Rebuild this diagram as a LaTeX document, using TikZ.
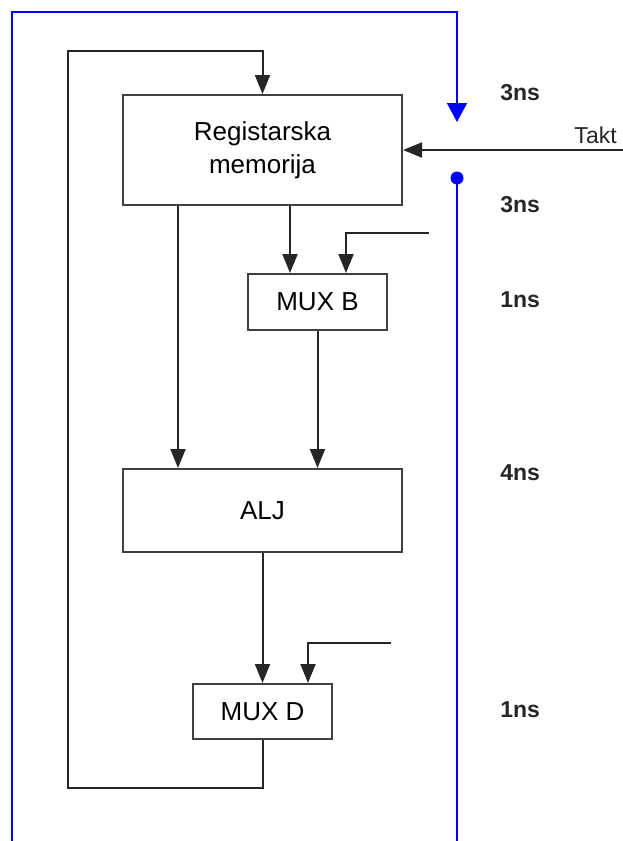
\documentclass[tikz,border=0pt]{standalone}
\usepackage{fontspec}
\setmainfont{Liberation Sans}
\usetikzlibrary{arrows.meta}
\begin{document}
\begin{tikzpicture}
[x=1pt, y=-1pt, line width=2pt, font=\fontsize{26}{33}\selectfont]
\tikzstyle{block}=[draw=black!75, fill=white, inner sep=0pt, align=center]
\tikzstyle{wire}=[draw=black!85, -{Triangle[length=19pt,width=15pt]}]
\tikzstyle{clk}=[draw=blue, line width=2pt]
\tikzstyle{delay}=[anchor=west, font=\fontsize{23}{27}\selectfont\bfseries, text=black!85]
\useasboundingbox (0,0) rectangle (623,841);

\node[block, minimum width=279pt, minimum height=110pt]	(reg)	at (262.5,150) {Registarska\\memorija};
\node[block, minimum width=139pt, minimum height=56pt]	(muxB)	at (317.5,302) {MUX B};
\node[block, minimum width=279pt, minimum height=83pt]	(alj)	at (262.5,510.5) {ALJ};
\node[block, minimum width=139pt, minimum height=55pt]	(muxD)	at (262.5,711.5) {MUX D};

\node[delay]	(d1)	at (496,93)  {3ns};
\node[delay]	(d2)	at (496,205) {3ns};
\node[delay]	(d3)	at (496,300) {1ns};
\node[delay]	(d4)	at (496,473) {4ns};
\node[delay]	(d5)	at (496,710) {1ns};
\node[anchor=base east, font=\fontsize{23}{27}\selectfont, text=black!85]	(takt)	at (621,143) {Takt};

\coordinate (clkin)	at (623,150);
\coordinate (inB)	at (429,233);
\coordinate (inD)	at (391,643);
\coordinate (b0)	at (12,841);
\coordinate (b1)	at (457,122);
\coordinate (dot)	at (457,178);

\draw[wire]	(clkin) -- (reg.east);
\draw[wire]	(178,0 |- reg.south) -- (178,0 |- alj.north);
\draw[wire]	(290,0 |- reg.south) -- (290,0 |- muxB.north);
\draw[wire]	(inB) -| (346,0 |- muxB.north);
\draw[wire]	(muxB.south) -- (muxB.south |- alj.north);
\draw[wire]	(alj.south) -- (muxD.north);
\draw[wire]	(inD) -| (308,0 |- muxD.north);
\draw[wire]	(muxD.south) -- ++(0,48) -| (68,51) -| (reg.north);

\draw[clk, -{Triangle[length=19pt,width=20pt]}]	(b0) |- (457,12) -- (b1);
\fill[blue]	(dot) circle (6.5pt);
\draw[clk]	(dot) -- (457,841);
\end{tikzpicture}
\end{document}
